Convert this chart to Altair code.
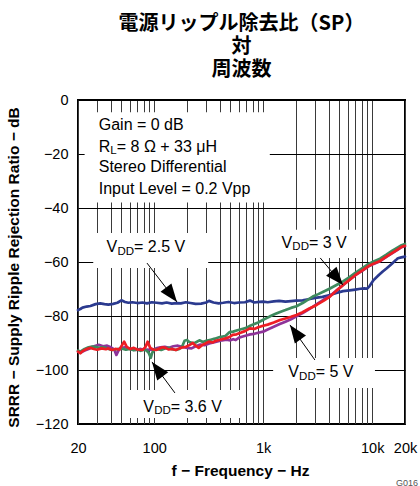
import altair as alt
import pandas as pd

# ---------------- data ----------------
blue_f = [20, 21, 22, 24, 26, 29, 32, 35, 38, 42, 46, 50, 54, 58, 63, 70, 78, 86, 95, 105,
          118, 130, 145, 160, 176, 195, 215, 240, 270, 300, 318, 350, 390, 430, 480, 540, 600, 680, 756, 830,
          920, 1000, 1100, 1250, 1400, 1600, 1800, 2000, 2300, 2600, 3000, 3500, 4100, 4700, 5400, 6200, 7000, 7800, 8500, 9000,
          9500, 10300, 11500, 12500, 13600, 15000, 16500, 17200, 18500, 20000]
blue_db = [-77.8, -77.4, -76.9, -76.5, -76.3, -75.6, -75.3, -75.6, -75.8, -75.5, -75.1, -74.2, -74.8, -75.1, -74.9, -75.2, -75.0, -75.3, -74.9, -75.1,
           -75.3, -75.0, -75.4, -75.2, -75.3, -74.9, -75.2, -75.5, -75.4, -75.0, -74.4, -75.0, -75.3, -75.1, -74.8, -75.2, -75.0, -74.9, -74.3, -75.0,
           -74.8, -74.7, -74.9, -74.6, -74.4, -74.7, -74.5, -74.3, -74.2, -73.8, -73.3, -72.9, -72.2, -71.5, -70.8, -70.5, -70.2, -69.9, -69.8, -69.9,
           -68.8, -66.7, -64.8, -63.5, -62.3, -60.8, -59.3, -58.6, -58.3, -58.0]

purple_f = [20, 21, 23, 25, 27, 29, 31, 34, 37, 40, 43, 45, 47, 50, 54, 58, 63, 68, 74, 80,
            87, 95, 104, 114, 125, 137, 150, 165, 180, 200, 220, 240, 265, 290, 320, 350, 380, 420, 460, 500,
            530, 560, 600, 650, 700, 760, 830, 900, 1000, 1100, 1250, 1420, 1600, 1800, 2000, 2300, 2600, 2850, 3200, 3600,
            4100, 4700, 5400, 6200, 7000, 8200, 9200, 10300, 11800, 13500, 15300, 17200, 18600, 20000]
purple_db = [-93.2, -93.6, -92.8, -92.2, -91.5, -91.0, -90.7, -91.2, -91.0, -91.6, -92.4, -94.4, -92.8, -91.8, -91.6, -92.0, -92.4, -92.6, -92.2, -92.5,
             -92.4, -92.6, -92.0, -91.6, -91.4, -91.8, -91.2, -91.0, -91.4, -91.8, -92.0, -91.2, -90.6, -90.8, -90.2, -89.8, -89.4, -89.0, -88.8, -89.0,
             -88.6, -88.9, -88.0, -87.6, -87.2, -86.8, -86.6, -86.2, -85.8, -85.0, -84.0, -83.0, -82.1, -81.2, -80.2, -78.9, -77.6, -76.6, -75.2, -73.9,
             -72.6, -70.6, -68.6, -66.6, -64.9, -63.1, -61.7, -60.7, -59.7, -58.1, -56.7, -55.4, -54.5, -54.1]

green_f = [20, 21, 23, 25, 27, 29, 31, 34, 37, 41, 45, 50, 55, 60, 65, 70, 75, 80, 85, 89,
           93, 96, 100, 108, 116, 125, 135, 146, 158, 170, 180, 190, 200, 210, 225, 240, 260, 280, 300, 330,
           360, 400, 450, 490, 530, 580, 640, 700, 760, 830, 900, 1000, 1100, 1170, 1300, 1430, 1600, 1800, 2020, 2300,
           2600, 2850, 3200, 3600, 4100, 4700, 5400, 6200, 7000, 8200, 9200, 10300, 11800, 13500, 15300, 17200, 18600, 20000]
green_db = [-92.8, -93.2, -92.2, -91.6, -91.3, -91.4, -91.8, -91.6, -92.0, -92.6, -92.3, -92.0, -92.5, -92.2, -92.7, -92.4, -92.9, -92.5, -92.8, -93.6,
            -95.5, -93.6, -92.5, -92.3, -92.6, -92.0, -91.8, -92.3, -92.6, -92.2, -91.4, -89.2, -88.9, -89.6, -90.0, -89.8, -89.0, -89.6, -89.2, -88.8,
            -88.4, -87.8, -87.4, -86.0, -85.8, -85.3, -84.8, -84.4, -83.6, -83.0, -82.4, -81.4, -80.6, -80.0, -79.2, -78.5, -77.8, -77.0, -76.4, -75.2,
            -73.8, -72.8, -71.9, -70.9, -69.8, -68.5, -67.2, -65.6, -64.0, -62.2, -60.8, -59.8, -58.8, -57.3, -55.8, -54.6, -53.8, -53.3]

red_f = [20, 21, 22, 24, 26, 28, 30, 33, 36, 38, 41, 44, 48, 53, 56, 60, 65, 70, 78, 83,
         87, 92, 98, 104, 112, 120, 128, 136, 146, 158, 170, 184, 196, 210, 226, 240, 256, 275, 295, 318,
         345, 365, 393, 420, 460, 490, 525, 570, 620, 680, 756, 830, 900, 1000, 1100, 1250, 1426, 1600, 1800, 2020,
         2300, 2600, 3090, 3600, 4100, 4700, 5400, 6200, 7000, 8200, 9200, 10300, 11800, 13500, 15300, 17200, 18600, 20000]
red_db = [-93.2, -93.8, -93.0, -92.2, -91.8, -92.2, -92.5, -92.0, -92.3, -92.0, -92.6, -92.2, -92.4, -89.5, -91.4, -92.2, -91.8, -92.4, -92.6, -91.6,
          -89.5, -91.8, -92.4, -92.6, -92.0, -91.6, -91.9, -92.4, -92.2, -92.6, -92.0, -91.6, -91.4, -90.8, -90.0, -91.0, -91.8, -90.8, -90.2, -89.5,
          -89.8, -89.2, -88.9, -88.6, -88.2, -87.8, -87.0, -86.8, -86.2, -85.6, -84.6, -84.8, -84.2, -83.6, -83.2, -82.4, -81.5, -80.9, -80.3, -79.6,
          -78.6, -77.4, -75.9, -74.3, -72.8, -70.6, -68.5, -66.6, -64.9, -63.0, -61.6, -60.6, -59.6, -58.0, -56.6, -55.3, -54.4, -54.0]

series_names = ["2.5V", "3.6V", "3V", "5V"]
series_colors = ["#2B3A8F", "#8E3399", "#3E8A5E", "#EE1D24"]

x_grid = [20, 30, 40, 50, 60, 70, 80, 90, 100, 200, 300, 400, 500, 600, 700, 800, 900,
          1000, 2000, 3000, 4000, 5000, 6000, 7000, 8000, 9000, 10000, 20000]
y_ticks = [-120, -100, -80, -60, -40, -20, 0]

title_lines = ["電源リップル除去比（SP）", "対", "周波数"]
x_title = "f − Frequency − Hz"
y_title = "SRRR − Supply Ripple Rejection Ratio − dB"

# annotation boxes (frequency / dB corners)
box_f1 = [23, 27.6, 1234, 1234, 57.5]
box_f2 = [1150, 313, 7240, 10600, 680]
box_d1 = [-4.5, -49.3, -48.1, -95.6, -107.4]
box_d2 = [-38.0, -62.2, -58.5, -106.7, -117.8]

info_text = ["Gain = 0 dB", "R", "Stereo Differential", "Input Level = 0.2 Vpp"]
info_db = [-9.1, -17.3, -24.9, -32.8]
info_f = [31, 31, 31, 31]
rl_sub = ["L"]
rl_rest = [" = 8 Ω + 33 μH"]

vdd_rest = [" = 2.5 V", " = 3 V", " = 5 V", " = 3.6 V"]
vdd_f = [36.6, 1474, 1700, 79.5]
vdd_db = [-54.6, -52.8, -100.9, -113.6]

arrow_tail_f = [85.9, 3336, 2982, 155]
arrow_tail_db = [-60.4, -58.5, -96.3, -108.5]
arrow_tip_f = [161.8, 5396, 1760, 95.4]
arrow_tip_db = [-74.8, -68.5, -83.3, -97.0]
arrow_angle = [142.4, 139.6, 324.5, 323.4]

# ---------------- build tables ----------------
curves = {
    "2.5V": (blue_f, blue_db),
    "3.6V": (purple_f, purple_db),
    "3V": (green_f, green_db),
    "5V": (red_f, red_db),
}
rows = []
for name in series_names:
    fs, ds = curves[name]
    for i, (f, d) in enumerate(zip(fs, ds)):
        rows.append({"series": name, "f": f, "db": d, "i": i})
df = pd.DataFrame(rows)

boxes = pd.DataFrame({"f": box_f1, "f2": box_f2, "db": box_d1, "d2": box_d2})
info = pd.DataFrame({"f": info_f, "db": info_db, "t": info_text})
rl_df = pd.DataFrame({"f": [info_f[1]], "db": [info_db[1]], "sub": rl_sub, "rest": rl_rest})
vdd = pd.DataFrame({"f": vdd_f, "db": vdd_db, "rest": vdd_rest})
arrows_line = pd.DataFrame({"f": arrow_tail_f, "db": arrow_tail_db,
                            "f2": arrow_tip_f, "d2": arrow_tip_db})
arrows_head = pd.DataFrame({"f": arrow_tip_f, "db": arrow_tip_db, "ang": arrow_angle})
note = pd.DataFrame({"f": [26400], "db": [-141.9], "t": ["G016"]})

FONT = "Liberation Sans"
xs = alt.Scale(type="log", domain=[20, 20000], nice=False)
ys = alt.Scale(domain=[-120, 0], nice=False, zero=False)

label_expr = ("datum.value == 20 ? '20' : datum.value == 100 ? '100' : datum.value == 1000 ? '1k' : "
              "datum.value == 10000 ? '10k' : datum.value == 20000 ? '20k' : ''")

x_axis = alt.Axis(values=x_grid, labelExpr=label_expr, grid=True, gridColor="#3a3a3a", gridWidth=1,
                  ticks=False, tickSize=0, domain=False, labelFont=FONT, labelFontSize=14.5,
                  labelColor="black", labelPadding=17, labelFlush=False, labelOverlap=False,
                  title=x_title, titleFont=FONT, titleFontSize=15.5, titleFontWeight="bold",
                  titleColor="black", titleX=162, titleY=46, titleBaseline="middle", titleAlign="center")
y_axis = alt.Axis(values=y_ticks, labelExpr="datum.value < 0 ? '−' + abs(datum.value) : '0'",
                  grid=True, gridColor="black", gridWidth=1, ticks=False, tickSize=0, domain=False,
                  labelFont=FONT, labelFontSize=14.5, labelColor="black", labelPadding=10,
                  labelOverlap=False, labelFlush=False,
                  title=y_title, titleFont=FONT, titleFontSize=15.5, titleFontWeight="bold",
                  titleColor="black", titleX=-65, titleY=167, titleAngle=270,
                  titleBaseline="middle", titleAlign="center")


def X():
    return alt.X("f:Q", scale=xs, axis=x_axis)


def Y():
    return alt.Y("db:Q", scale=ys, axis=y_axis)


layers = {}
for name, col in zip(series_names, series_colors):
    layers[name] = (
        alt.Chart(df).transform_filter(alt.datum.series == name)
        .mark_line(color=col, strokeWidth=2.7, strokeJoin="round", strokeCap="round")
        .encode(x=X(), y=Y(), order="i:Q")
    )

box_layer = alt.Chart(boxes).mark_rect(color="white").encode(x=X(), x2="f2:Q", y=Y(), y2="d2:Q")

info_layer = alt.Chart(info).mark_text(align="left", baseline="middle", font=FONT, fontSize=16,
                                       color="black").encode(x=X(), y=Y(), text="t:N")
rl_sub_layer = alt.Chart(rl_df).mark_text(align="left", baseline="middle", font=FONT, fontSize=11.5,
                                          dx=11.6, dy=4.5, color="black").encode(x=X(), y=Y(), text="sub:N")
rl_rest_layer = alt.Chart(rl_df).mark_text(align="left", baseline="middle", font=FONT, fontSize=16,
                                           dx=18, color="black").encode(x=X(), y=Y(), text="rest:N")

vdd_v = alt.Chart(vdd).mark_text(align="left", baseline="middle", font=FONT, fontSize=16,
                                 color="black", text="V").encode(x=X(), y=Y())
vdd_sub = alt.Chart(vdd).mark_text(align="left", baseline="middle", font=FONT, fontSize=11.5,
                                   dx=10.8, dy=4.5, color="black", text="DD").encode(x=X(), y=Y())
vdd_rest_layer = alt.Chart(vdd).mark_text(align="left", baseline="middle", font=FONT, fontSize=16,
                                          dx=27.4, color="black").encode(x=X(), y=Y(), text="rest:N")

arrow_lines = alt.Chart(arrows_line).mark_rule(color="black", strokeWidth=1).encode(
    x=X(), y=Y(), x2="f2:Q", y2="d2:Q")
arrow_heads = alt.Chart(arrows_head).mark_point(shape="M0,0L-0.38,1L0.38,1Z", filled=True, color="black",
                                                opacity=1, size=1300, strokeWidth=0).encode(
    x=X(), y=Y(), angle=alt.Angle("ang:Q", scale=None))

note_layer = alt.Chart(note).mark_text(align="right", baseline="middle", font=FONT, fontSize=9,
                                       color="#555555").encode(x=X(), y=Y(), text="t:N")

chart = alt.layer(
    box_layer, layers["2.5V"], layers["3.6V"], layers["3V"], layers["5V"],
    info_layer, rl_sub_layer, rl_rest_layer,
    vdd_v, vdd_sub, vdd_rest_layer, arrow_lines, arrow_heads, note_layer
).properties(
    width=327, height=324,
    title=alt.TitleParams(text=title_lines, font="Noto Sans CJK JP", fontSize=20, fontWeight="bold",
                          lineHeight=23, anchor="middle", offset=12, color="black"),
    autosize=alt.AutoSizeParams(type="none"),
    padding={"left": 78, "top": 100, "right": 15, "bottom": 62},
).configure_view(stroke="black", strokeWidth=2)

chart.save("out.html", embed_options={"renderer": "svg", "actions": False})
